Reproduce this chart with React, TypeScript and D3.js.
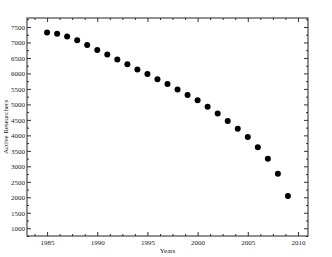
import React, { useEffect, useRef } from 'react';
import * as d3 from 'd3';

const years = [1985, 1986, 1987, 1988, 1989, 1990, 1991, 1992, 1993, 1994, 1995, 1996, 1997,
  1998, 1999, 2000, 2001, 2002, 2003, 2004, 2005, 2006, 2007, 2008, 2009];
const researchers = [7320, 7280, 7190, 7070, 6920, 6760, 6610, 6450, 6300, 6130, 5980, 5810, 5655,
  5480, 5305, 5135, 4920, 4705, 4460, 4210, 3950, 3620, 3245, 2760, 2040];
const xMajorTicks = [1985, 1990, 1995, 2000, 2005, 2010];
const yMajorTicks = [1000, 1500, 2000, 2500, 3000, 3500, 4000, 4500, 5000, 5500, 6000, 6500, 7000, 7500];

const App = () => {
  const svgRef = useRef<SVGSVGElement>(null);

  useEffect(() => {
    const W = 332, H = 257;
    const margin = { top: 18, right: 24, bottom: 21, left: 27 };
    const width = W - margin.left - margin.right;
    const height = H - margin.top - margin.bottom;

    d3.select(svgRef.current).selectAll('*').remove();

    const svg = d3.select(svgRef.current)
      .attr('width', W)
      .attr('height', H)
      .append('g')
      .attr('transform', `translate(${margin.left},${margin.top})`);

    const x = d3.scaleLinear().domain([1983, 2011]).range([0, width]);
    const y = d3.scaleLinear().domain([750, 7790]).range([height, 0]);

    const xMinor = d3.range(1983.75, 2011, 1.25).filter(v => !xMajorTicks.some(m => Math.abs(m - v) < 0.01));
    const yMinor = d3.range(750, 7790, 250).filter(v => v % 500 !== 0);

    const font = '"Liberation Serif", "Times New Roman", serif';
    const tickColor = '#333';

    // inward ticks on all four sides
    const sides = [
      { axis: d3.axisBottom(x), t: `translate(0,${height})`, major: xMajorTicks, minor: xMinor, pad: 4, labels: true },
      { axis: d3.axisTop(x), t: 'translate(0,0)', major: xMajorTicks, minor: xMinor, pad: 0, labels: false },
      { axis: d3.axisLeft(y), t: 'translate(0,0)', major: yMajorTicks, minor: yMinor, pad: 2, labels: true },
      { axis: d3.axisRight(y), t: `translate(${width},0)`, major: yMajorTicks, minor: yMinor, pad: 0, labels: false },
    ];

    sides.forEach(s => {
      const gMinor = svg.append('g').attr('transform', s.t)
        .call(s.axis.tickValues(s.minor).tickSize(-2).tickFormat(() => ''));
      gMinor.select('.domain').remove();
      gMinor.selectAll('line').attr('stroke', tickColor);

      const gMajor = svg.append('g').attr('transform', s.t)
        .call(s.axis.tickValues(s.major).tickSize(-4).tickPadding(s.pad)
          .tickFormat(s.labels ? (d => String(d)) : () => ''));
      gMajor.select('.domain').remove();
      gMajor.selectAll('line').attr('stroke', tickColor);
      gMajor.selectAll('text')
        .attr('font-family', font)
        .attr('font-size', 7)
        .attr('fill', '#222');
    });

    svg.append('rect')
      .attr('x', 0).attr('y', 0)
      .attr('width', width).attr('height', height)
      .attr('fill', 'none')
      .attr('stroke', '#222')
      .attr('stroke-width', 1);

    svg.selectAll('circle.pt')
      .data(years)
      .enter()
      .append('circle')
      .attr('class', 'pt')
      .attr('cx', (d) => x(d))
      .attr('cy', (_d, i) => y(researchers[i]))
      .attr('r', 3)
      .attr('fill', '#000');

    svg.append('text')
      .attr('x', width / 2)
      .attr('y', height + 17)
      .attr('text-anchor', 'middle')
      .attr('font-family', font)
      .attr('font-size', 7)
      .attr('fill', '#222')
      .text('Years');

    svg.append('text')
      .attr('transform', `translate(${-19},${height / 2}) rotate(-90)`)
      .attr('text-anchor', 'middle')
      .attr('font-family', font)
      .attr('font-size', 7)
      .attr('fill', '#222')
      .text('Active Researchers');
  }, []);

  return (
    <svg ref={svgRef} style={{ position: 'absolute', left: 0, top: 0, background: '#fff' }}></svg>
  );
};

export default App;
